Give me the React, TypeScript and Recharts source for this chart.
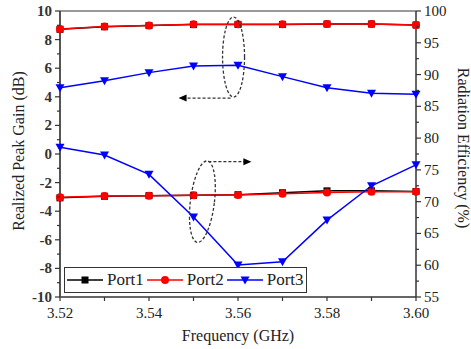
import React from 'react';
import { LineChart, Line, XAxis, YAxis, ReferenceLine, ReferenceDot } from 'recharts';

// frequency points (GHz)
const freqs = [3.52, 3.53, 3.54, 3.55, 3.56, 3.57, 3.58, 3.59, 3.6];

// realized peak gain (dB)
const port1Gain = [8.72, 8.9, 8.98, 9.05, 9.06, 9.06, 9.09, 9.09, 9.02];
const port2Gain = [8.74, 8.92, 8.99, 9.07, 9.07, 9.07, 9.09, 9.09, 9.02];
const port3Gain = [4.64, 5.13, 5.69, 6.15, 6.2, 5.41, 4.64, 4.24, 4.17];

// radiation efficiency (%)
const port1Eff = [70.6, 70.85, 70.95, 71.0, 71.1, 71.4, 71.7, 71.7, 71.6];
const port2Eff = [70.7, 70.9, 70.95, 71.0, 71.05, 71.25, 71.45, 71.55, 71.55];
const port3Eff = [78.55, 77.35, 74.3, 67.6, 60.05, 60.55, 67.1, 72.5, 75.8];

const xTicks = [3.52, 3.53, 3.54, 3.55, 3.56, 3.57, 3.58, 3.59, 3.6];
const gainTicks = [-10, -9, -8, -7, -6, -5, -4, -3, -2, -1, 0, 1, 2, 3, 4, 5, 6, 7, 8, 9, 10];
const effTicks = [55, 57.5, 60, 62.5, 65, 67.5, 70, 72.5, 75, 77.5, 80, 82.5, 85, 87.5, 90, 92.5, 95, 97.5, 100];

const seriesNames = ['Port1', 'Port2', 'Port3'];
const seriesColors = ['#000000', '#ff0000', '#0000ff'];

const data = freqs.map((f, i) => ({
  freq: f,
  p1g: port1Gain[i],
  p2g: port2Gain[i],
  p3g: port3Gain[i],
  p1e: port1Eff[i],
  p2e: port2Eff[i],
  p3e: port3Eff[i],
}));

const FONT = 'Liberation Serif';
const txt = { fontFamily: FONT };
const AXIS = '#333';

const GainTick = (props: any) => {
  const { x, y, payload } = props;
  const major = payload.value % 2 === 0;
  return (
    <g>
      <line x1={x} x2={x - (major ? 5 : 3)} y1={y} y2={y} stroke={AXIS} strokeWidth={1.2} />
      {major && (
        <text x={x - 8} y={y} dy={5} textAnchor="end" style={txt} fontSize={15} fontWeight="bold" fill="#333">
          {payload.value}
        </text>
      )}
    </g>
  );
};

const EffTick = (props: any) => {
  const { x, y, payload } = props;
  const major = payload.value % 5 === 0;
  return (
    <g>
      <line x1={x} x2={x + (major ? 5 : 3)} y1={y} y2={y} stroke={AXIS} strokeWidth={1.2} />
      {major && (
        <text x={x + 8} y={y} dy={5} textAnchor="start" style={txt} fontSize={15} fill="#222">
          {payload.value}
        </text>
      )}
    </g>
  );
};

const FreqTick = (props: any) => {
  const { x, y, payload } = props;
  const labelled = Math.round(payload.value * 100) % 2 === 0;
  return (
    <g>
      <line x1={x} x2={x} y1={y} y2={y + 4} stroke={AXIS} strokeWidth={1.2} />
      {labelled && (
        <text x={x} y={y + 21} textAnchor="middle" style={txt} fontSize={15} fill="#222">
          {payload.value.toFixed(2)}
        </text>
      )}
    </g>
  );
};

const makeDot = (kind: number, color: string) => (props: any) => {
  const { cx, cy, key } = props;
  if (cx == null || cy == null) return <g key={key} />;
  if (kind === 0) {
    return <rect key={key} x={cx - 3.5} y={cy - 3.5} width={7} height={7} fill={color} />;
  }
  if (kind === 1) {
    return <circle key={key} cx={cx} cy={cy} r={4} fill={color} />;
  }
  return (
    <polygon key={key} points={`${cx - 4.5},${cy - 3.5} ${cx + 4.5},${cy - 3.5} ${cx},${cy + 4.5}`} fill={color} />
  );
};

// dashed ellipse with an arrow pointing at the axis the group belongs to
const LeftMarker = (props: any) => {
  const { cx, cy } = props;
  return (
    <g>
      <ellipse cx={cx} cy={cy} rx={11} ry={40} fill="none" stroke="#333" strokeWidth={1.3} strokeDasharray="3 2" />
      <line x1={cx - 3} y1={cy + 41} x2={cx - 48} y2={cy + 41} stroke="#333" strokeWidth={1.3} strokeDasharray="3 2" />
      <polygon points={`${cx - 55},${cy + 41} ${cx - 47},${cy + 37.5} ${cx - 47},${cy + 44.5}`} fill="#000" />
    </g>
  );
};

const RightMarker = (props: any) => {
  const { cx, cy } = props;
  return (
    <g>
      <ellipse
        cx={cx}
        cy={cy}
        rx={12}
        ry={41}
        fill="none"
        stroke="#333"
        strokeWidth={1.3}
        strokeDasharray="3 2"
        transform={`rotate(7 ${cx} ${cy})`}
      />
      <line x1={cx + 6} y1={cy - 40} x2={cx + 42} y2={cy - 40} stroke="#333" strokeWidth={1.3} strokeDasharray="3 2" />
      <polygon points={`${cx + 49},${cy - 40} ${cx + 41},${cy - 43.5} ${cx + 41},${cy - 36.5}`} fill="#000" />
    </g>
  );
};

const LegendBox = () => (
  <div
    style={{
      position: 'absolute',
      left: 64,
      top: 267,
      width: 241,
      height: 24,
      border: '1.5px solid #333',
      background: '#fff',
      display: 'flex',
      alignItems: 'center',
      fontFamily: FONT,
      fontSize: 17,
      color: '#222',
    }}
  >
    {seriesNames.map((name, i) => (
      <div key={name} style={{ display: 'flex', alignItems: 'center', marginLeft: i === 0 ? 2 : 3 }}>
        <svg width={36} height={12}>
          <line x1={0} x2={36} y1={6} y2={6} stroke={seriesColors[i]} strokeWidth={1.5} />
          {i === 0 && <rect x={14.5} y={2.5} width={7} height={7} fill={seriesColors[i]} />}
          {i === 1 && <circle cx={18} cy={6} r={4} fill={seriesColors[i]} />}
          {i === 2 && <polygon points="13.5,2.5 22.5,2.5 18,10.5" fill={seriesColors[i]} />}
        </svg>
        <span style={{ marginLeft: 4 }}>{name}</span>
      </div>
    ))}
  </div>
);

const gainTitle = (props: any) => {
  const { viewBox } = props;
  const y = viewBox.y + viewBox.height / 2 - 3;
  return (
    <text x={24} y={y} transform={`rotate(-90 24 ${y})`} textAnchor="middle" style={txt} fontSize={16} fill="#222">
      Realized Peak Gain (dB)
    </text>
  );
};

const effTitle = (props: any) => {
  const { viewBox } = props;
  const y = viewBox.y + viewBox.height / 2 - 6;
  return (
    <text x={458} y={y} transform={`rotate(90 458 ${y})`} textAnchor="middle" style={txt} fontSize={16} fill="#222">
      Radiation Efficiency (%)
    </text>
  );
};

const freqTitle = (props: any) => {
  const { viewBox } = props;
  const x = viewBox.x + viewBox.width / 2;
  return (
    <text x={x} y={341} textAnchor="middle" style={txt} fontSize={16} fill="#222">
      Frequency (GHz)
    </text>
  );
};

const lineKeys = [
  { key: 'p1g', axis: 'gain', s: 0 },
  { key: 'p1e', axis: 'eff', s: 0 },
  { key: 'p2g', axis: 'gain', s: 1 },
  { key: 'p2e', axis: 'eff', s: 1 },
  { key: 'p3g', axis: 'gain', s: 2 },
  { key: 'p3e', axis: 'eff', s: 2 },
];

export default function App() {
  return (
    <div style={{ position: 'absolute', left: 0, top: 0, width: 471, height: 349, background: '#fff' }}>
      <LineChart width={471} height={349} data={data} margin={{ top: 11, right: 0, bottom: 0, left: 0 }}>
        <XAxis
          dataKey="freq"
          type="number"
          domain={[3.52, 3.6]}
          ticks={xTicks}
          interval={0}
          height={52}
          tickSize={0}
          tickMargin={0}
          tickLine={false}
          tick={<FreqTick />}
          axisLine={{ stroke: AXIS, strokeWidth: 1.5 }}
          label={{ content: freqTitle }}
        />
        <YAxis
          yAxisId="gain"
          orientation="left"
          type="number"
          domain={[-10, 10]}
          ticks={gainTicks}
          interval={0}
          width={60}
          tickSize={0}
          tickMargin={0}
          tickLine={false}
          tick={<GainTick />}
          axisLine={{ stroke: '#555', strokeWidth: 2 }}
          label={{ content: gainTitle }}
        />
        <YAxis
          yAxisId="eff"
          orientation="right"
          type="number"
          domain={[55, 100]}
          ticks={effTicks}
          interval={0}
          width={55}
          tickSize={0}
          tickMargin={0}
          tickLine={false}
          tick={<EffTick />}
          axisLine={{ stroke: AXIS, strokeWidth: 1.5 }}
          label={{ content: effTitle }}
        />
        <ReferenceLine yAxisId="gain" y={10} stroke="#9a9a9a" strokeWidth={2} />
        {lineKeys.map((l) => (
          <Line
            key={l.key}
            yAxisId={l.axis}
            dataKey={l.key}
            type="linear"
            stroke={seriesColors[l.s]}
            strokeWidth={1.5}
            dot={makeDot(l.s, seriesColors[l.s])}
            activeDot={false}
            isAnimationActive={false}
          />
        ))}
        <ReferenceDot yAxisId="gain" x={3.559} y={6.78} r={0} shape={<LeftMarker />} />
        <ReferenceDot yAxisId="eff" x={3.552} y={70} r={0} shape={<RightMarker />} />
      </LineChart>
      <LegendBox />
    </div>
  );
}
